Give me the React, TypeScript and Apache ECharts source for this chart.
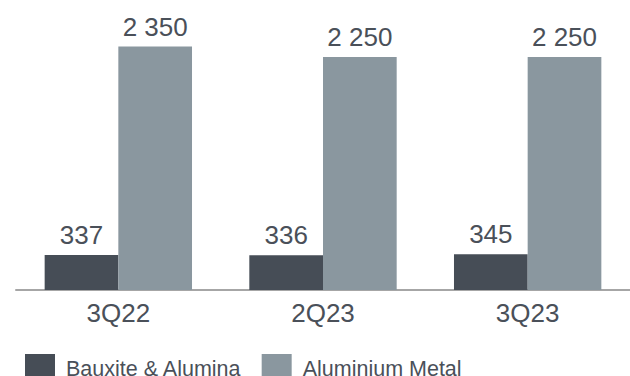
import React, { useEffect, useRef } from "react";
import * as echarts from "echarts";

const categories = ["3Q22", "2Q23", "3Q23"];
const seriesNames = ["Bauxite & Alumina", "Aluminium Metal"];
const bauxiteAlumina = [337, 336, 345];
const aluminiumMetal = [2350, 2250, 2250];

const FONT = "'Liberation Sans', Arial, sans-serif";
const TEXT = "#4a5059";

const fmt = (v: number) => String(v).replace(/\B(?=(\d{3})+(?!\d))/g, " ");

export default function App() {
  const ref = useRef<HTMLDivElement>(null);
  useEffect(() => {
    if (!ref.current) return;
    const chart = echarts.init(ref.current, undefined, { renderer: "svg" });
    const label = {
      show: true,
      position: "top" as const,
      distance: 7,
      fontSize: 26,
      fontFamily: FONT,
      color: TEXT,
      formatter: (p: any) => fmt(p.value),
    };
    chart.setOption({
      animation: false,
      backgroundColor: "#ffffff",
      textStyle: { fontFamily: FONT },
      grid: { left: 16, top: 31, width: 624, height: 259, containLabel: false },
      legend: {
        left: 25,
        top: 354,
        padding: 0,
        itemWidth: 30,
        itemHeight: 30,
        itemGap: 20,
        icon: "rect",
        data: seriesNames,
        textStyle: {
          fontSize: 21.5,
          lineHeight: 14,
          color: TEXT,
          fontFamily: FONT,
          padding: [0, 0, 0, 6],
        },
      },
      xAxis: {
        type: "category",
        data: categories,
        axisLine: { show: true, lineStyle: { color: "#a6a6a6", width: 2 } },
        axisTick: { show: false },
        axisLabel: { fontSize: 26, color: TEXT, fontFamily: FONT, margin: 10 },
      },
      yAxis: {
        type: "value",
        min: 0,
        max: 2500,
        show: false,
        splitLine: { show: false },
      },
      series: [
        {
          name: seriesNames[0],
          type: "bar",
          data: bauxiteAlumina,
          barGap: "0%",
          barCategoryGap: "28%",
          itemStyle: { color: "#464d56" },
          label,
        },
        {
          name: seriesNames[1],
          type: "bar",
          data: aluminiumMetal,
          barGap: "0%",
          barCategoryGap: "28%",
          itemStyle: { color: "#8a979f" },
          label,
        },
      ],
    });
    return () => chart.dispose();
  }, []);
  return (
    <div
      ref={ref}
      style={{ position: "fixed", left: 0, top: 0, width: 630, height: 376 }}
    />
  );
}
